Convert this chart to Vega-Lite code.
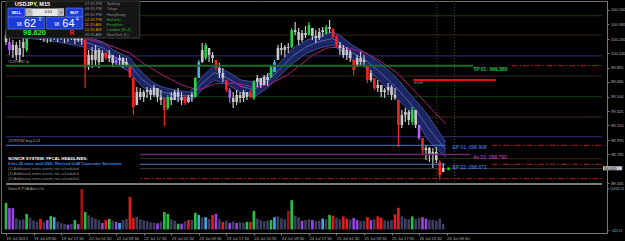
{
"$schema":"https://vega.github.io/schema/vega-lite/v6.json",
"width":606,"height":232,
"autosize":{"type":"none"},
"padding":{"left":1,"top":1,"right":18,"bottom":8},
"background":"#000000",
"config":{
 "view":{"stroke":"#6e6e6e","strokeWidth":1},
 "axis":{"grid":false,"domainColor":"#7a7a7a","tickColor":"#7a7a7a","labelColor":"#b4b4b4","labelFont":"Liberation Sans","labelFontSize":4.1,"tickSize":2,"labelPadding":1,"labelOverlap":false,"labelBound":false,"labelFlush":false},
 "text":{"font":"Liberation Sans"}
},
"datasets":{
 "levels":[
  {"p":100.49,"a":0,"b":173.14,"kind":"pg"},
  {"p":100.254,"a":0,"b":173.14,"kind":"pb"},
  {"p":99.998,"a":0,"b":173.14,"kind":"pn"},
  {"p":99.879,"a":0,"b":135.7,"kind":"tp"},
  {"p":99.753,"a":0,"b":173.14,"kind":"pb"},
  {"p":99.5,"a":0,"b":173.14,"kind":"pg"},
  {"p":99.252,"a":0,"b":173.14,"kind":"pb"},
  {"p":99.011,"a":0,"b":173.14,"kind":"pn"},
  {"p":98.906,"a":0,"b":127.7,"kind":"ep"},
  {"p":98.793,"a":0,"b":134.9,"kind":"av"},
  {"p":98.742,"a":0,"b":173.14,"kind":"pb"},
  {"p":98.674,"a":0,"b":127.7,"kind":"ep"},
  {"p":98.62,"a":0,"b":173.14,"kind":"bid"}
 ],
 "stops":[{"p":99.879,"a":146.9,"b":173.14},{"p":98.906,"a":141.1,"b":173.14},{"p":98.674,"a":141.1,"b":173.14},{"p":98.498,"a":0,"b":173.14}],
 "koh":[{"p":99.704,"a":118.3,"b":142.3}],
 "vlines":[{"t":125.14},{"t":130.29}],
 "band":[
  {"t":0,"bt":100.413,"bm":100.327,"bb":100.242},
  {"t":5.43,"bt":100.389,"bm":100.303,"bb":100.217},
  {"t":11.14,"bt":100.352,"bm":100.272,"bb":100.193},
  {"t":16.86,"bt":100.315,"bm":100.236,"bb":100.156},
  {"t":22.57,"bt":100.242,"bm":100.175,"bb":100.107},
  {"t":28.29,"bt":100.169,"bm":100.095,"bb":100.022},
  {"t":31.14,"bt":100.071,"bm":99.997,"bb":99.924},
  {"t":36,"bt":99.973,"bm":99.887,"bb":99.802},
  {"t":37.71,"bt":99.887,"bm":99.796,"bb":99.704},
  {"t":39.71,"bt":99.79,"bm":99.704,"bb":99.618},
  {"t":42.57,"bt":99.68,"bm":99.612,"bb":99.545},
  {"t":45.43,"bt":99.618,"bm":99.557,"bb":99.496},
  {"t":49.14,"bt":99.582,"bm":99.521,"bb":99.46},
  {"t":53.14,"bt":99.557,"bm":99.508,"bb":99.46},
  {"t":54.86,"bt":99.618,"bm":99.551,"bb":99.484},
  {"t":56.86,"bt":99.741,"bm":99.661,"bb":99.582},
  {"t":60.57,"bt":99.887,"bm":99.796,"bb":99.704},
  {"t":64.57,"bt":99.802,"bm":99.722,"bb":99.643},
  {"t":68.29,"bt":99.704,"bm":99.625,"bb":99.545},
  {"t":72,"bt":99.68,"bm":99.588,"bb":99.496},
  {"t":76,"bt":99.765,"bm":99.686,"bb":99.606},
  {"t":79.71,"bt":99.924,"bm":99.845,"bb":99.765},
  {"t":83.43,"bt":100.095,"bm":100.004,"bb":99.912},
  {"t":87.43,"bt":100.193,"bm":100.114,"bb":100.034},
  {"t":91.14,"bt":100.254,"bm":100.175,"bb":100.095},
  {"t":94.86,"bt":100.291,"bm":100.211,"bb":100.132},
  {"t":96.86,"bt":100.254,"bm":100.162,"bb":100.071},
  {"t":100.57,"bt":100.132,"bm":100.04,"bb":99.949},
  {"t":104.57,"bt":100.034,"bm":99.942,"bb":99.851},
  {"t":108.29,"bt":99.924,"bm":99.814,"bb":99.704},
  {"t":112,"bt":99.79,"bm":99.667,"bb":99.545},
  {"t":114,"bt":99.704,"bm":99.582,"bb":99.46},
  {"t":116.86,"bt":99.557,"bm":99.447,"bb":99.337},
  {"t":119.71,"bt":99.423,"bm":99.301,"bb":99.178},
  {"t":122.57,"bt":99.276,"bm":99.123,"bb":98.971},
  {"t":125.43,"bt":99.093,"bm":98.971,"bb":98.848},
  {"t":127.71,"bt":98.946,"bm":98.854,"bb":98.763}
 ],
 "ema":[
  {"t":0,"m":100.462},{"t":11.14,"m":100.364},{"t":22.57,"m":100.217},{"t":28.29,"m":100.156},
  {"t":36,"m":100.034},{"t":39.71,"m":99.912},{"t":45.43,"m":99.765},{"t":51.14,"m":99.643},
  {"t":54.86,"m":99.594},{"t":56.86,"m":99.594},{"t":60.57,"m":99.655},{"t":66.29,"m":99.667},
  {"t":72,"m":99.618},{"t":76,"m":99.643},{"t":81.71,"m":99.765},{"t":85.43,"m":99.887},
  {"t":89.14,"m":100.01},{"t":93.14,"m":100.095},{"t":96.86,"m":100.107},{"t":100.57,"m":100.083},
  {"t":104.57,"m":100.034},{"t":108.29,"m":99.949},{"t":114,"m":99.777},{"t":127.71,"m":99.166}
 ],
 "candles":[
  {"t":0,"o":100.254,"h":100.315,"l":100.132,"c":100.169,"k":"n"},
  {"t":1,"o":100.169,"h":100.217,"l":100.01,"c":100.071,"k":"p"},
  {"t":2,"o":100.071,"h":100.193,"l":99.973,"c":100.132,"k":"n"},
  {"t":3,"o":100.132,"h":100.169,"l":99.949,"c":100.01,"k":"n"},
  {"t":4,"o":100.01,"h":100.193,"l":99.924,"c":100.095,"k":"n"},
  {"t":5,"o":100.095,"h":100.217,"l":99.985,"c":100.169,"k":"n"},
  {"t":6,"o":100.071,"h":100.376,"l":100.046,"c":100.315,"k":"g"},
  {"t":7,"o":100.315,"h":100.437,"l":100.254,"c":100.376,"k":"n"},
  {"t":8,"o":100.376,"h":100.462,"l":100.315,"c":100.352,"k":"n"},
  {"t":9,"o":100.352,"h":100.437,"l":100.291,"c":100.315,"k":"n"},
  {"t":10,"o":100.315,"h":100.376,"l":100.193,"c":100.254,"k":"n"},
  {"t":11,"o":100.254,"h":100.34,"l":100.169,"c":100.217,"k":"n"},
  {"t":12,"o":100.217,"h":100.315,"l":100.156,"c":100.279,"k":"n"},
  {"t":13,"o":100.279,"h":100.34,"l":100.169,"c":100.242,"k":"n"},
  {"t":14,"o":100.242,"h":100.376,"l":100.193,"c":100.315,"k":"n"},
  {"t":15,"o":100.315,"h":100.34,"l":100.169,"c":100.23,"k":"n"},
  {"t":16,"o":100.23,"h":100.315,"l":100.193,"c":100.279,"k":"n"},
  {"t":17,"o":100.279,"h":100.315,"l":100.156,"c":100.217,"k":"n"},
  {"t":18,"o":100.217,"h":100.34,"l":100.169,"c":100.291,"k":"n"},
  {"t":19,"o":100.291,"h":100.315,"l":100.193,"c":100.242,"k":"n"},
  {"t":20,"o":100.242,"h":100.291,"l":100.144,"c":100.193,"k":"n"},
  {"t":21,"o":100.193,"h":100.315,"l":100.169,"c":100.254,"k":"n"},
  {"t":22,"o":100.254,"h":100.291,"l":100.132,"c":100.193,"k":"n"},
  {"t":23,"o":100.193,"h":100.217,"l":99.606,"c":99.851,"k":"r"},
  {"t":24,"o":99.887,"h":100.071,"l":99.826,"c":100.01,"k":"n"},
  {"t":25,"o":100.01,"h":100.107,"l":99.851,"c":99.949,"k":"n"},
  {"t":26,"o":99.949,"h":100.132,"l":99.887,"c":100.071,"k":"n"},
  {"t":27,"o":100.071,"h":100.095,"l":99.851,"c":99.924,"k":"n"},
  {"t":28,"o":99.924,"h":100.071,"l":99.924,"c":100.034,"k":"n"},
  {"t":29,"o":100.034,"h":100.046,"l":99.949,"c":99.973,"k":"r"},
  {"t":30,"o":99.973,"h":100.071,"l":99.924,"c":100.01,"k":"n"},
  {"t":31,"o":100.01,"h":100.01,"l":99.863,"c":99.912,"k":"n"},
  {"t":32,"o":99.912,"h":99.985,"l":99.875,"c":99.949,"k":"p"},
  {"t":33,"o":99.949,"h":100.01,"l":99.887,"c":99.973,"k":"n"},
  {"t":34,"o":99.973,"h":99.985,"l":99.851,"c":99.887,"k":"n"},
  {"t":35,"o":99.887,"h":99.973,"l":99.863,"c":99.924,"k":"n"},
  {"t":36,"o":99.875,"h":99.887,"l":99.728,"c":99.741,"k":"r"},
  {"t":37,"o":99.728,"h":99.741,"l":99.276,"c":99.374,"k":"r"},
  {"t":38,"o":99.398,"h":99.618,"l":99.398,"c":99.557,"k":"n"},
  {"t":39,"o":99.557,"h":99.606,"l":99.46,"c":99.496,"k":"n"},
  {"t":40,"o":99.496,"h":99.582,"l":99.435,"c":99.557,"k":"n"},
  {"t":41,"o":99.557,"h":99.618,"l":99.484,"c":99.582,"k":"n"},
  {"t":42,"o":99.582,"h":99.606,"l":99.46,"c":99.521,"k":"n"},
  {"t":43,"o":99.521,"h":99.643,"l":99.496,"c":99.606,"k":"n"},
  {"t":44,"o":99.606,"h":99.606,"l":99.435,"c":99.496,"k":"n"},
  {"t":45,"o":99.496,"h":99.582,"l":99.398,"c":99.46,"k":"n"},
  {"t":46,"o":99.484,"h":99.484,"l":99.142,"c":99.337,"k":"r"},
  {"t":47,"o":99.362,"h":99.521,"l":99.337,"c":99.496,"k":"g"},
  {"t":48,"o":99.496,"h":99.557,"l":99.398,"c":99.46,"k":"n"},
  {"t":49,"o":99.46,"h":99.582,"l":99.46,"c":99.557,"k":"n"},
  {"t":50,"o":99.557,"h":99.606,"l":99.435,"c":99.496,"k":"n"},
  {"t":51,"o":99.496,"h":99.557,"l":99.398,"c":99.46,"k":"n"},
  {"t":52,"o":99.496,"h":99.521,"l":99.398,"c":99.423,"k":"r"},
  {"t":53,"o":99.435,"h":99.521,"l":99.423,"c":99.496,"k":"n"},
  {"t":54,"o":99.496,"h":99.557,"l":99.435,"c":99.521,"k":"n"},
  {"t":55,"o":99.496,"h":99.741,"l":99.496,"c":99.728,"k":"g"},
  {"t":56,"o":99.728,"h":99.949,"l":99.728,"c":99.924,"k":"b"},
  {"t":57,"o":99.924,"h":100.156,"l":99.912,"c":100.071,"k":"n"},
  {"t":58,"o":99.973,"h":100.156,"l":99.949,"c":100.132,"k":"g"},
  {"t":59,"o":100.095,"h":100.095,"l":99.924,"c":100.01,"k":"n"},
  {"t":60,"o":100.01,"h":100.046,"l":99.912,"c":99.973,"k":"n"},
  {"t":61,"o":99.949,"h":99.949,"l":99.826,"c":99.851,"k":"r"},
  {"t":62,"o":99.851,"h":99.912,"l":99.728,"c":99.79,"k":"n"},
  {"t":63,"o":99.79,"h":99.851,"l":99.68,"c":99.728,"k":"n"},
  {"t":64,"o":99.704,"h":99.704,"l":99.557,"c":99.582,"k":"r"},
  {"t":65,"o":99.582,"h":99.606,"l":99.423,"c":99.484,"k":"p"},
  {"t":66,"o":99.484,"h":99.557,"l":99.362,"c":99.435,"k":"n"},
  {"t":67,"o":99.435,"h":99.582,"l":99.398,"c":99.521,"k":"n"},
  {"t":68,"o":99.521,"h":99.557,"l":99.423,"c":99.484,"k":"n"},
  {"t":69,"o":99.484,"h":99.582,"l":99.435,"c":99.557,"k":"n"},
  {"t":70,"o":99.557,"h":99.557,"l":99.46,"c":99.496,"k":"n"},
  {"t":71,"o":99.557,"h":99.582,"l":99.484,"c":99.496,"k":"r"},
  {"t":72,"o":99.484,"h":99.704,"l":99.46,"c":99.68,"k":"g"},
  {"t":73,"o":99.68,"h":99.765,"l":99.618,"c":99.728,"k":"n"},
  {"t":74,"o":99.728,"h":99.728,"l":99.606,"c":99.643,"k":"n"},
  {"t":75,"o":99.643,"h":99.765,"l":99.643,"c":99.741,"k":"n"},
  {"t":76,"o":99.741,"h":99.79,"l":99.631,"c":99.704,"k":"n"},
  {"t":77,"o":99.741,"h":99.887,"l":99.728,"c":99.887,"k":"g"},
  {"t":78,"o":99.802,"h":99.949,"l":99.802,"c":99.924,"k":"b"},
  {"t":79,"o":99.949,"h":100.132,"l":99.949,"c":100.095,"k":"n"},
  {"t":80,"o":100.095,"h":100.156,"l":100.01,"c":100.071,"k":"n"},
  {"t":81,"o":100.071,"h":100.132,"l":99.985,"c":100.107,"k":"n"},
  {"t":82,"o":100.107,"h":100.156,"l":100.034,"c":100.095,"k":"n"},
  {"t":83,"o":100.107,"h":100.34,"l":100.095,"c":100.315,"k":"g"},
  {"t":84,"o":100.315,"h":100.413,"l":100.254,"c":100.291,"k":"n"},
  {"t":85,"o":100.291,"h":100.34,"l":100.132,"c":100.193,"k":"n"},
  {"t":86,"o":100.193,"h":100.315,"l":100.169,"c":100.279,"k":"n"},
  {"t":87,"o":100.279,"h":100.364,"l":100.217,"c":100.254,"k":"n"},
  {"t":88,"o":100.254,"h":100.413,"l":100.254,"c":100.376,"k":"g"},
  {"t":89,"o":100.34,"h":100.34,"l":100.193,"c":100.242,"k":"n"},
  {"t":90,"o":100.242,"h":100.315,"l":100.156,"c":100.217,"k":"n"},
  {"t":91,"o":100.217,"h":100.34,"l":100.193,"c":100.291,"k":"n"},
  {"t":92,"o":100.291,"h":100.352,"l":100.23,"c":100.315,"k":"n"},
  {"t":93,"o":100.279,"h":100.376,"l":100.254,"c":100.352,"k":"g"},
  {"t":94,"o":100.352,"h":100.437,"l":100.279,"c":100.327,"k":"n"},
  {"t":95,"o":100.327,"h":100.34,"l":100.217,"c":100.23,"k":"r"},
  {"t":96,"o":100.23,"h":100.254,"l":100.107,"c":100.132,"k":"r"},
  {"t":97,"o":100.132,"h":100.169,"l":100.01,"c":100.095,"k":"n"},
  {"t":98,"o":100.095,"h":100.132,"l":99.973,"c":100.01,"k":"n"},
  {"t":99,"o":100.01,"h":100.107,"l":99.949,"c":100.071,"k":"n"},
  {"t":100,"o":100.046,"h":100.071,"l":99.924,"c":99.973,"k":"n"},
  {"t":101,"o":99.949,"h":99.949,"l":99.765,"c":99.826,"k":"r"},
  {"t":102,"o":99.863,"h":100.01,"l":99.863,"c":99.973,"k":"n"},
  {"t":103,"o":99.973,"h":100.046,"l":99.887,"c":99.924,"k":"n"},
  {"t":104,"o":99.924,"h":100.01,"l":99.863,"c":99.949,"k":"n"},
  {"t":105,"o":99.875,"h":99.887,"l":99.667,"c":99.704,"k":"r"},
  {"t":106,"o":99.704,"h":99.826,"l":99.68,"c":99.79,"k":"n"},
  {"t":107,"o":99.728,"h":99.728,"l":99.582,"c":99.606,"k":"r"},
  {"t":108,"o":99.606,"h":99.704,"l":99.557,"c":99.643,"k":"n"},
  {"t":109,"o":99.643,"h":99.643,"l":99.496,"c":99.557,"k":"n"},
  {"t":110,"o":99.557,"h":99.606,"l":99.484,"c":99.582,"k":"n"},
  {"t":111,"o":99.582,"h":99.667,"l":99.521,"c":99.618,"k":"n"},
  {"t":112,"o":99.618,"h":99.643,"l":99.46,"c":99.521,"k":"n"},
  {"t":113,"o":99.521,"h":99.606,"l":99.46,"c":99.484,"k":"n"},
  {"t":114,"o":99.46,"h":99.46,"l":98.885,"c":99.154,"k":"r"},
  {"t":115,"o":99.154,"h":99.337,"l":99.117,"c":99.276,"k":"n"},
  {"t":116,"o":99.276,"h":99.362,"l":99.191,"c":99.313,"k":"n"},
  {"t":117,"o":99.313,"h":99.337,"l":99.154,"c":99.215,"k":"n"},
  {"t":118,"o":99.191,"h":99.374,"l":99.154,"c":99.337,"k":"g"},
  {"t":119,"o":99.337,"h":99.337,"l":99.117,"c":99.154,"k":"n"},
  {"t":120,"o":99.154,"h":99.154,"l":98.971,"c":98.995,"k":"p"},
  {"t":121,"o":98.995,"h":98.995,"l":98.787,"c":98.848,"k":"r"},
  {"t":122,"o":98.848,"h":98.909,"l":98.726,"c":98.873,"k":"n"},
  {"t":123,"o":98.873,"h":98.885,"l":98.702,"c":98.787,"k":"n"},
  {"t":124,"o":98.787,"h":98.873,"l":98.628,"c":98.824,"k":"n"},
  {"t":125,"o":98.824,"h":98.885,"l":98.689,"c":98.726,"k":"n"},
  {"t":126,"o":98.702,"h":98.726,"l":98.482,"c":98.543,"k":"r"},
  {"t":127,"o":98.579,"h":98.689,"l":98.579,"c":98.628,"k":"n"}
 ],
 "vol":[
  {"t":0,"v":7300,"k":"g"},{"t":1,"v":5900,"k":"p"},{"t":2,"v":5900,"k":"p"},{"t":3,"v":3000,"k":"n"},
  {"t":4,"v":2600,"k":"n"},{"t":5,"v":2800,"k":"n"},{"t":6,"v":4300,"k":"g"},{"t":7,"v":3200,"k":"n"},
  {"t":8,"v":2500,"k":"n"},{"t":9,"v":2200,"k":"n"},{"t":10,"v":2900,"k":"r"},{"t":11,"v":2000,"k":"n"},
  {"t":12,"v":2600,"k":"p"},{"t":13,"v":3700,"k":"g"},{"t":14,"v":3400,"k":"b"},{"t":15,"v":2200,"k":"n"},
  {"t":16,"v":1800,"k":"n"},{"t":17,"v":1500,"k":"n"},{"t":18,"v":1300,"k":"p"},{"t":19,"v":1600,"k":"n"},
  {"t":20,"v":2600,"k":"g"},{"t":21,"v":1500,"k":"p"},{"t":22,"v":11200,"k":"dr"},{"t":23,"v":4800,"k":"g"},
  {"t":24,"v":3900,"k":"n"},{"t":25,"v":3400,"k":"n"},{"t":26,"v":3000,"k":"n"},{"t":27,"v":2600,"k":"n"},
  {"t":28,"v":1800,"k":"p"},{"t":29,"v":2600,"k":"r"},{"t":30,"v":2900,"k":"g"},{"t":31,"v":2400,"k":"n"},
  {"t":32,"v":2100,"k":"p"},{"t":33,"v":1800,"k":"b"},{"t":34,"v":2600,"k":"n"},{"t":35,"v":2900,"k":"n"},
  {"t":36,"v":9000,"k":"r"},{"t":37,"v":3200,"k":"r"},{"t":38,"v":3500,"k":"n"},{"t":39,"v":2800,"k":"n"},
  {"t":40,"v":2500,"k":"n"},{"t":41,"v":2300,"k":"n"},{"t":42,"v":2000,"k":"n"},{"t":43,"v":1900,"k":"n"},
  {"t":44,"v":1700,"k":"p"},{"t":45,"v":2200,"k":"n"},{"t":46,"v":4800,"k":"g"},{"t":47,"v":4300,"k":"g"},
  {"t":48,"v":2800,"k":"n"},{"t":49,"v":2400,"k":"n"},{"t":50,"v":1600,"k":"g"},{"t":51,"v":1600,"k":"p"},
  {"t":52,"v":2300,"k":"n"},{"t":53,"v":2600,"k":"r"},{"t":54,"v":2700,"k":"n"},{"t":55,"v":4600,"k":"g"},
  {"t":56,"v":4000,"k":"b"},{"t":57,"v":3300,"k":"n"},{"t":58,"v":3400,"k":"b"},{"t":59,"v":2900,"k":"n"},
  {"t":60,"v":4000,"k":"r"},{"t":61,"v":4300,"k":"p"},{"t":62,"v":2800,"k":"n"},{"t":63,"v":2100,"k":"r"},
  {"t":64,"v":2500,"k":"n"},{"t":65,"v":1800,"k":"p"},{"t":66,"v":2200,"k":"n"},{"t":67,"v":1800,"k":"p"},
  {"t":68,"v":2000,"k":"n"},{"t":69,"v":1900,"k":"n"},{"t":70,"v":2100,"k":"g"},{"t":71,"v":2100,"k":"r"},
  {"t":72,"v":5100,"k":"g"},{"t":73,"v":3000,"k":"n"},{"t":74,"v":2600,"k":"n"},{"t":75,"v":2300,"k":"n"},
  {"t":76,"v":2500,"k":"n"},{"t":77,"v":2600,"k":"g"},{"t":78,"v":3400,"k":"b"},{"t":79,"v":3600,"k":"n"},
  {"t":80,"v":3100,"k":"n"},{"t":81,"v":2800,"k":"n"},{"t":82,"v":5100,"k":"dr"},{"t":83,"v":8100,"k":"g"},
  {"t":84,"v":3800,"k":"n"},{"t":85,"v":3300,"k":"n"},{"t":86,"v":2400,"k":"p"},{"t":87,"v":2600,"k":"n"},
  {"t":88,"v":2800,"k":"n"},{"t":89,"v":2600,"k":"p"},{"t":90,"v":2300,"k":"n"},{"t":91,"v":2400,"k":"n"},
  {"t":92,"v":3000,"k":"b"},{"t":93,"v":2800,"k":"n"},{"t":94,"v":4000,"k":"g"},{"t":95,"v":3800,"k":"r"},
  {"t":96,"v":3200,"k":"n"},{"t":97,"v":2800,"k":"n"},{"t":98,"v":3600,"k":"r"},{"t":99,"v":3000,"k":"r"},
  {"t":100,"v":2700,"k":"n"},{"t":101,"v":3200,"k":"p"},{"t":102,"v":2600,"k":"p"},{"t":103,"v":2300,"k":"n"},
  {"t":104,"v":2400,"k":"n"},{"t":105,"v":3400,"k":"r"},{"t":106,"v":2600,"k":"p"},{"t":107,"v":2800,"k":"n"},
  {"t":108,"v":3600,"k":"r"},{"t":109,"v":3200,"k":"r"},{"t":110,"v":2500,"k":"n"},{"t":111,"v":2300,"k":"n"},
  {"t":112,"v":2600,"k":"n"},{"t":113,"v":4200,"k":"r"},{"t":114,"v":6000,"k":"r"},{"t":115,"v":3600,"k":"n"},
  {"t":116,"v":3000,"k":"n"},{"t":117,"v":2800,"k":"n"},{"t":118,"v":3600,"k":"g"},{"t":119,"v":2900,"k":"n"},
  {"t":120,"v":3200,"k":"n"},{"t":121,"v":3400,"k":"p"},{"t":122,"v":3000,"k":"p"},{"t":123,"v":2700,"k":"n"},
  {"t":124,"v":2600,"k":"n"},{"t":125,"v":2400,"k":"n"},{"t":126,"v":3000,"k":"n"},{"t":127,"v":1500,"k":"n"}
 ],
 "newsBox":[{"a":0,"b":38.86,"p1":98.897,"p2":98.433}],
 "panelBox":[{"a":0,"b":38.86,"p1":100.67,"p2":100.217}],
 "buttons":[
  {"a":0.57,"b":5.43,"p1":100.584,"p2":100.474},
  {"a":17.43,"b":22.29,"p1":100.584,"p2":100.474},
  {"a":0.57,"b":11.14,"p1":100.474,"p2":100.327},
  {"a":11.71,"b":22.29,"p1":100.474,"p2":100.327}
 ],
 "lotBox":[{"a":5.71,"b":16.86,"p1":100.578,"p2":100.486}],
 "lotBtn":[{"a":5.71,"b":7.71,"p1":100.578,"p2":100.486},{"a":15.0,"b":16.86,"p1":100.578,"p2":100.486}],
 "title":[{"t":2.57,"p":100.637,"txt":"USDJPY, M15"}],
 "btnText":[{"t":3,"p":100.529,"txt":"SELL"},{"t":19.86,"p":100.529,"txt":"BUY"}],
 "lotText":[{"t":6.71,"p":100.532,"txt":"−"},{"t":12.3,"p":100.532,"txt":"0.01"},{"t":15.93,"p":100.532,"txt":"+"}],
 "quoteBig":[{"t":7.0,"p":100.39,"txt":"62"},{"t":18.14,"p":100.39,"txt":"64"}],
 "quoteSmall":[{"t":3.86,"p":100.38,"txt":"98"},{"t":9.86,"p":100.44,"txt":"0"},{"t":14.71,"p":100.38,"txt":"98"},{"t":20.71,"p":100.44,"txt":"4"}],
 "bidText":[{"t":8.29,"p":100.277,"txt":"98.620"}],
 "rText":[{"t":19.14,"p":100.277,"txt":"R"}],
 "clocks":[
  {"t":22.86,"p":100.629,"time":"07:35 PM","city":"Sydney","open":false},
  {"t":22.86,"p":100.568,"time":"08:35 PM","city":"Tokyo","open":false},
  {"t":22.86,"p":100.502,"time":"09:35 PM","city":"HongKong","open":false},
  {"t":22.86,"p":100.441,"time":"12:35 PM","city":"Helsinki","open":true},
  {"t":22.86,"p":100.38,"time":"11:35 AM","city":"Frankfurt","open":true},
  {"t":22.86,"p":100.319,"time":"10:35 AM","city":"London (S+1)","open":true},
  {"t":22.86,"p":100.258,"time":"06:35 AM","city":"NewYork (L)","open":false}
 ],
 "account":[{"t":0.57,"p":98.962,"txt":"#5299782 buy 0.01"},{"t":0.57,"p":99.924,"txt":"#5299782 tp"}],
 "headline":[{"t":0.57,"p":98.738,"txt":"SONICR SYSTEM: FFCAL HEADLINES:"}],
 "nextNews":[{"t":0.57,"p":98.674,"txt":"6 hrs 20 mins until USD: Revised UoM Consumer Sentiment"}],
 "otherNews":[
  {"t":0.57,"p":98.613,"txt":"(2)  Additional news events not scheduled"},
  {"t":0.57,"p":98.555,"txt":"(3)  Additional news events not scheduled"},
  {"t":0.57,"p":98.494,"txt":"(4)  Additional news events not scheduled"}
 ],
 "tpText":[{"t":135.71,"p":99.838,"txt":"TP 01: 099.880"}],
 "epText":[{"t":129.71,"p":98.885,"txt":"EP 01: 098.908"},{"t":129.71,"p":98.635,"txt":"EP 02: 098.671"}],
 "avText":[{"t":135.71,"p":98.769,"txt":"Av 03: 098.790"}],
 "kohText":[{"t":118.57,"p":99.667,"txt":"KOH"}],
 "bidDot":[{"t":128.57,"p":98.62}],
 "priceTag":[{"a":173.43,"b":179,"p1":98.65,"p2":98.601,"t":173.75,"p":98.622,"txt":"98.620"}],
 "pvaLabel":[{"t":0.57,"v":11150,"txt":"SonicR PVA   Alert On"}]
},
"resolve":{"scale":{"y":"independent","color":"independent"}},
"layer":[
 {"layer":[
  {"data":{"name":"levels"},"transform":[{"filter":"datum.kind=='pg'"}],
   "mark":{"type":"rule","color":"#11401a","strokeWidth":1},
   "encoding":{
    "x":{"field":"a","type":"quantitative","title":null,"scale":{"domain":[0,173.14],"nice":false,"zero":false},
      "axis":{"orient":"bottom","title":null,"tickCount":100,"values":[0,8,16,24,32,40,48,56,64,72,80,88,96,104,112,120,128],
        "labelExpr":"['19 Jul 2013','19 Jul 09:30','19 Jul 17:30','22 Jul 01:30','22 Jul 09:30','22 Jul 17:30','23 Jul 01:30','23 Jul 09:30','23 Jul 17:30','24 Jul 01:30','24 Jul 09:30','24 Jul 17:30','25 Jul 01:30','25 Jul 09:30','25 Jul 17:30','26 Jul 01:30','26 Jul 09:30'][round(datum.value/8)]",
        "labelAlign":"left","labelBaseline":"top","labelOverlap":false,"labelFlush":false,"labelBound":false,"tickSize":2,"labelPadding":1}},
    "x2":{"field":"b"},
    "y":{"field":"p","type":"quantitative","title":null,"scale":{"domain":[98.433,100.67],"range":[183,0],"nice":false,"zero":false},
      "axis":{"orient":"right","title":null,"tickCount":100,"values":[98.445,98.795,98.97,99.15,99.325,99.5,99.68,99.855,100.03,100.2,100.385,100.56],
        "format":".3f","labelOverlap":false,"labelFlush":false,"labelBound":false,"labelPadding":1.5,"tickSize":2}}
   }},
  {"data":{"name":"levels"},"transform":[{"filter":"datum.kind=='pb'"}],
   "mark":{"type":"rule","color":"#3a2a14","strokeWidth":1},
   "encoding":{"x":{"field":"a","type":"quantitative","title":null},"x2":{"field":"b"},"y":{"field":"p","type":"quantitative","title":null}}},
  {"data":{"name":"levels"},"transform":[{"filter":"datum.kind=='pn'"}],
   "mark":{"type":"rule","color":"#26265e","strokeWidth":1.2},
   "encoding":{"x":{"field":"a","type":"quantitative","title":null},"x2":{"field":"b"},"y":{"field":"p","type":"quantitative","title":null}}},
  {"data":{"name":"levels"},"transform":[{"filter":"datum.kind=='bid'"}],
   "mark":{"type":"rule","color":"#3c3c3c","strokeWidth":1},
   "encoding":{"x":{"field":"a","type":"quantitative","title":null},"x2":{"field":"b"},"y":{"field":"p","type":"quantitative","title":null}}},
  {"data":{"name":"vlines"},
   "mark":{"type":"rule","color":"#4a4a1c","strokeWidth":1,"strokeDash":[1,2]},
   "encoding":{"x":{"field":"t","type":"quantitative","title":null},"y":{"datum":100.67,"type":"quantitative"},"y2":{"datum":98.433}}},
  {"data":{"name":"band"},
   "mark":{"type":"area","color":"#1b2564","opacity":1},
   "encoding":{"x":{"field":"t","type":"quantitative","title":null},"y":{"field":"bt","type":"quantitative","title":null},"y2":{"field":"bb"}}},
  {"data":{"name":"band"},
   "mark":{"type":"line","color":"#4b5ca6","strokeWidth":0.8},
   "encoding":{"x":{"field":"t","type":"quantitative","title":null},"y":{"field":"bt","type":"quantitative","title":null}}},
  {"data":{"name":"band"},
   "mark":{"type":"line","color":"#4b5ca6","strokeWidth":0.8},
   "encoding":{"x":{"field":"t","type":"quantitative","title":null},"y":{"field":"bb","type":"quantitative","title":null}}},
  {"data":{"name":"band"},
   "mark":{"type":"line","color":"#7d8cc8","strokeWidth":0.6},
   "encoding":{"x":{"field":"t","type":"quantitative","title":null},"y":{"field":"bm","type":"quantitative","title":null}}},
  {"data":{"name":"ema"},
   "mark":{"type":"line","color":"#b3187c","strokeWidth":1},
   "encoding":{"x":{"field":"t","type":"quantitative","title":null},"y":{"field":"m","type":"quantitative","title":null}}},
  {"data":{"name":"candles"},
   "mark":{"type":"rule","strokeWidth":1.2},
   "encoding":{"x":{"field":"t","type":"quantitative","title":null},"y":{"field":"l","type":"quantitative","title":null},"y2":{"field":"h"},
    "color":{"field":"k","type":"nominal","legend":null,"scale":{"domain":["n","r","g","b","p"],"range":["#c8c8c8","#ff2020","#22d448","#3fb4ff","#b45cff"]}}}},
  {"data":{"name":"candles"},
   "mark":{"type":"bar","width":2.6},
   "encoding":{"x":{"field":"t","type":"quantitative","title":null},"y":{"field":"o","type":"quantitative","title":null},"y2":{"field":"c"},
    "color":{"field":"k","type":"nominal","legend":null,"scale":{"domain":["n","r","g","b","p"],"range":["#c8c8c8","#ff2020","#22d448","#3fb4ff","#b45cff"]}}}},
  {"data":{"name":"levels"},"transform":[{"filter":"datum.kind=='tp'"}],
   "mark":{"type":"rule","color":"#1e6a2e","strokeWidth":2},
   "encoding":{"x":{"field":"a","type":"quantitative","title":null},"x2":{"field":"b"},"y":{"field":"p","type":"quantitative","title":null}}},
  {"data":{"name":"levels"},"transform":[{"filter":"datum.kind=='ep'"}],
   "mark":{"type":"rule","color":"#4a78c8","strokeWidth":1},
   "encoding":{"x":{"field":"a","type":"quantitative","title":null},"x2":{"field":"b"},"y":{"field":"p","type":"quantitative","title":null}}},
  {"data":{"name":"levels"},"transform":[{"filter":"datum.kind=='av'"}],
   "mark":{"type":"rule","color":"#6a2a7a","strokeWidth":1.5},
   "encoding":{"x":{"field":"a","type":"quantitative","title":null},"x2":{"field":"b"},"y":{"field":"p","type":"quantitative","title":null}}},
  {"data":{"name":"stops"},
   "mark":{"type":"rule","color":"#b02020","strokeWidth":1,"strokeDash":[6,2,1.5,2]},
   "encoding":{"x":{"field":"a","type":"quantitative","title":null},"x2":{"field":"b"},"y":{"field":"p","type":"quantitative","title":null}}},
  {"data":{"name":"koh"},
   "mark":{"type":"rule","color":"#e01010","strokeWidth":2},
   "encoding":{"x":{"field":"a","type":"quantitative","title":null},"x2":{"field":"b"},"y":{"field":"p","type":"quantitative","title":null}}},
  {"data":{"name":"newsBox"},
   "mark":{"type":"rect","color":"#000000"},
   "encoding":{"x":{"field":"a","type":"quantitative","title":null},"x2":{"field":"b"},"y":{"field":"p1","type":"quantitative","title":null},"y2":{"field":"p2"}}},
  {"data":{"name":"panelBox"},
   "mark":{"type":"rect","fill":"#151515","stroke":"#3c3c3c","strokeWidth":1},
   "encoding":{"x":{"field":"a","type":"quantitative","title":null},"x2":{"field":"b"},"y":{"field":"p1","type":"quantitative","title":null},"y2":{"field":"p2"}}},
  {"data":{"name":"buttons"},
   "mark":{"type":"rect","fill":"#1c3ad6","stroke":"#7088f0","strokeWidth":0.6},
   "encoding":{"x":{"field":"a","type":"quantitative","title":null},"x2":{"field":"b"},"y":{"field":"p1","type":"quantitative","title":null},"y2":{"field":"p2"}}},
  {"data":{"name":"lotBox"},
   "mark":{"type":"rect","fill":"#e8e8e8"},
   "encoding":{"x":{"field":"a","type":"quantitative","title":null},"x2":{"field":"b"},"y":{"field":"p1","type":"quantitative","title":null},"y2":{"field":"p2"}}},
  {"data":{"name":"lotBtn"},
   "mark":{"type":"rect","fill":"#b8b8b8"},
   "encoding":{"x":{"field":"a","type":"quantitative","title":null},"x2":{"field":"b"},"y":{"field":"p1","type":"quantitative","title":null},"y2":{"field":"p2"}}},
  {"data":{"name":"title"},
   "mark":{"type":"text","color":"#ffffff","fontSize":5.5,"fontWeight":"bold","align":"left","baseline":"middle"},
   "encoding":{"x":{"field":"t","type":"quantitative","title":null},"y":{"field":"p","type":"quantitative","title":null},"text":{"field":"txt"}}},
  {"data":{"name":"btnText"},
   "mark":{"type":"text","color":"#ffffff","fontSize":3.8,"fontWeight":"bold","align":"center","baseline":"middle"},
   "encoding":{"x":{"field":"t","type":"quantitative","title":null},"y":{"field":"p","type":"quantitative","title":null},"text":{"field":"txt"}}},
  {"data":{"name":"lotText"},
   "mark":{"type":"text","color":"#000000","fontSize":4,"align":"center","baseline":"middle"},
   "encoding":{"x":{"field":"t","type":"quantitative","title":null},"y":{"field":"p","type":"quantitative","title":null},"text":{"field":"txt"}}},
  {"data":{"name":"quoteBig"},
   "mark":{"type":"text","color":"#ffffff","fontSize":11,"align":"center","baseline":"middle"},
   "encoding":{"x":{"field":"t","type":"quantitative","title":null},"y":{"field":"p","type":"quantitative","title":null},"text":{"field":"txt"}}},
  {"data":{"name":"quoteSmall"},
   "mark":{"type":"text","color":"#ffffff","fontSize":4.5,"align":"center","baseline":"middle"},
   "encoding":{"x":{"field":"t","type":"quantitative","title":null},"y":{"field":"p","type":"quantitative","title":null},"text":{"field":"txt"}}},
  {"data":{"name":"bidText"},
   "mark":{"type":"text","color":"#2ee82e","fontSize":7.5,"fontWeight":"bold","align":"center","baseline":"middle"},
   "encoding":{"x":{"field":"t","type":"quantitative","title":null},"y":{"field":"p","type":"quantitative","title":null},"text":{"field":"txt"}}},
  {"data":{"name":"rText"},
   "mark":{"type":"text","color":"#ff2020","fontSize":6.5,"fontWeight":"bold","align":"center","baseline":"middle"},
   "encoding":{"x":{"field":"t","type":"quantitative","title":null},"y":{"field":"p","type":"quantitative","title":null},"text":{"field":"txt"}}},
  {"data":{"name":"clocks"},
   "mark":{"type":"text","fontSize":4,"align":"left","baseline":"middle"},
   "encoding":{"x":{"field":"t","type":"quantitative","title":null},"y":{"field":"p","type":"quantitative","title":null},"text":{"field":"time"},
    "color":{"condition":{"test":"datum.open","value":"#e08a10"},"value":"#8c8c8c"}}},
  {"data":{"name":"clocks"},
   "mark":{"type":"text","fontSize":4,"align":"left","baseline":"middle","dx":22},
   "encoding":{"x":{"field":"t","type":"quantitative","title":null},"y":{"field":"p","type":"quantitative","title":null},"text":{"field":"city"},
    "color":{"condition":{"test":"datum.open","value":"#38b038"},"value":"#8c8c8c"}}},
  {"data":{"name":"account"},
   "mark":{"type":"text","color":"#a8a8a8","fontSize":3.8,"align":"left","baseline":"middle"},
   "encoding":{"x":{"field":"t","type":"quantitative","title":null},"y":{"field":"p","type":"quantitative","title":null},"text":{"field":"txt"}}},
  {"data":{"name":"headline"},
   "mark":{"type":"text","color":"#ffffff","fontSize":4.3,"fontWeight":"bold","align":"left","baseline":"middle"},
   "encoding":{"x":{"field":"t","type":"quantitative","title":null},"y":{"field":"p","type":"quantitative","title":null},"text":{"field":"txt"}}},
  {"data":{"name":"nextNews"},
   "mark":{"type":"text","color":"#3c8cf0","fontSize":4,"fontWeight":"bold","align":"left","baseline":"middle"},
   "encoding":{"x":{"field":"t","type":"quantitative","title":null},"y":{"field":"p","type":"quantitative","title":null},"text":{"field":"txt"}}},
  {"data":{"name":"otherNews"},
   "mark":{"type":"text","color":"#8c8c8c","fontSize":3.9,"align":"left","baseline":"middle"},
   "encoding":{"x":{"field":"t","type":"quantitative","title":null},"y":{"field":"p","type":"quantitative","title":null},"text":{"field":"txt"}}},
  {"data":{"name":"tpText"},
   "mark":{"type":"text","color":"#22c44a","fontSize":5,"fontWeight":"bold","align":"left","baseline":"middle"},
   "encoding":{"x":{"field":"t","type":"quantitative","title":null},"y":{"field":"p","type":"quantitative","title":null},"text":{"field":"txt"}}},
  {"data":{"name":"epText"},
   "mark":{"type":"text","color":"#5a8cf0","fontSize":5,"align":"left","baseline":"middle"},
   "encoding":{"x":{"field":"t","type":"quantitative","title":null},"y":{"field":"p","type":"quantitative","title":null},"text":{"field":"txt"}}},
  {"data":{"name":"avText"},
   "mark":{"type":"text","color":"#d84ad8","fontSize":5,"align":"left","baseline":"middle"},
   "encoding":{"x":{"field":"t","type":"quantitative","title":null},"y":{"field":"p","type":"quantitative","title":null},"text":{"field":"txt"}}},
  {"data":{"name":"kohText"},
   "mark":{"type":"text","color":"#a0a0a0","fontSize":4,"align":"left","baseline":"middle"},
   "encoding":{"x":{"field":"t","type":"quantitative","title":null},"y":{"field":"p","type":"quantitative","title":null},"text":{"field":"txt"}}},
  {"data":{"name":"bidDot"},
   "mark":{"type":"square","color":"#00ff00","size":6,"filled":true,"opacity":1},
   "encoding":{"x":{"field":"t","type":"quantitative","title":null},"y":{"field":"p","type":"quantitative","title":null}}},
  {"data":{"name":"priceTag"},
   "mark":{"type":"rect","fill":"#c8c8c8"},
   "encoding":{"x":{"field":"a","type":"quantitative","title":null},"x2":{"field":"b"},"y":{"field":"p1","type":"quantitative","title":null},"y2":{"field":"p2"}}},
  {"data":{"name":"priceTag"},
   "mark":{"type":"text","color":"#000000","fontSize":4.1,"align":"left","baseline":"middle"},
   "encoding":{"x":{"field":"t","type":"quantitative","title":null},"y":{"field":"p","type":"quantitative","title":null},"text":{"field":"txt"}}},
  {"data":{"values":[{}]},
   "mark":{"type":"rule","color":"#7a7a7a","strokeWidth":2},
   "encoding":{"x":{"datum":0,"type":"quantitative"},"x2":{"datum":173.14},"y":{"datum":98.433,"type":"quantitative"}}}
 ]},
 {"layer":[
  {"data":{"name":"vol"},
   "mark":{"type":"bar","width":2.6},
   "encoding":{
    "x":{"field":"t","type":"quantitative","title":null},
    "y":{"field":"v","type":"quantitative","title":null,"scale":{"domain":[-145.15,11458.13],"range":[229,187],"nice":false,"zero":false},
      "axis":{"orient":"right","title":null,"tickCount":100,"values":[11458.13,-145.15],"format":".2f","labelOverlap":false,"labelFlush":false,"labelBound":false,"labelPadding":1,"tickSize":1.5,"labelFontSize":3.4}},
    "y2":{"datum":0},
    "color":{"field":"k","type":"nominal","legend":null,"scale":{"domain":["n","r","dr","g","b","p"],"range":["#3e3e60","#e81c1c","#a01212","#22c444","#3fa8e8","#9a44e8"]}}}},
  {"data":{"name":"pvaLabel"},
   "mark":{"type":"text","color":"#a8a8a8","fontSize":3.9,"align":"left","baseline":"middle"},
   "encoding":{"x":{"field":"t","type":"quantitative","title":null},"y":{"field":"v","type":"quantitative","title":null},"text":{"field":"txt"}}}
 ]}
]
}
